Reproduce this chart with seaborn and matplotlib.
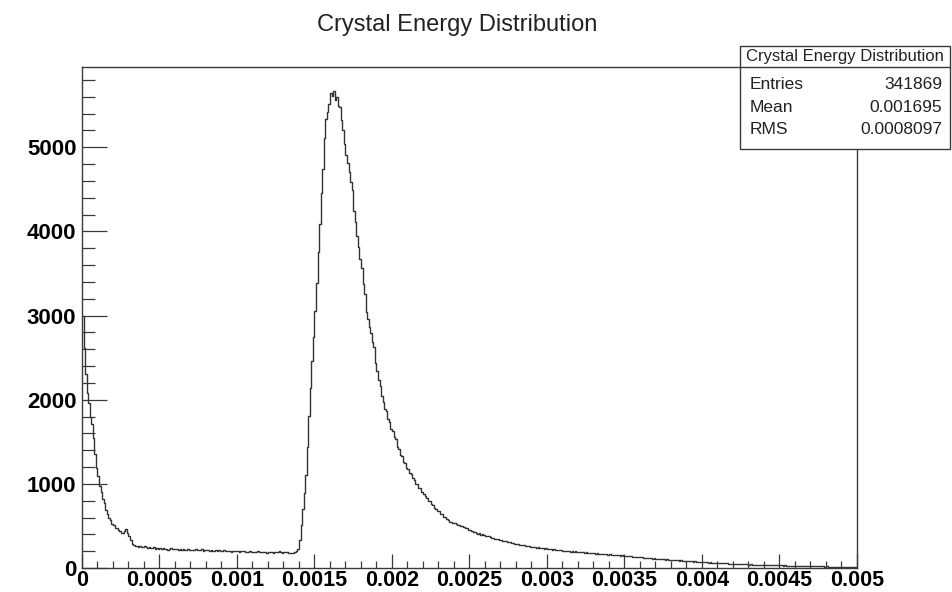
import numpy as np
import pandas as pd
import matplotlib
matplotlib.use('Agg')
import matplotlib.pyplot as plt
from matplotlib.ticker import MultipleLocator, FuncFormatter
from matplotlib.patches import Rectangle
from matplotlib.lines import Line2D
import seaborn as sns

# histogram range: 500 bins between 0 and 0.005
x_min, x_max, n_bins = 0.0, 0.005, 500

# bin contents, bins 0-139 (low edge + flat part)
counts_low = [
    3000, 2620, 2310, 2080, 1960, 1790, 1710, 1540, 1360, 1190, 1090, 970, 905, 820, 770, 695, 645, 598, 566, 527,
    508, 476, 472, 451, 444, 418, 413, 436, 468, 415, 378, 334, 288, 277, 262, 259, 254, 262, 248, 251,
    258, 246, 239, 252, 241, 236, 244, 230, 238, 226, 233, 229, 237, 224, 231, 219, 228, 233, 221, 225,
    222, 230, 218, 226, 215, 223, 219, 212, 227, 216, 220, 211, 218, 224, 209, 215, 213, 221, 206, 214,
    210, 217, 204, 212, 208, 199, 215, 203, 209, 201, 206, 212, 198, 204, 200, 207, 196, 203, 199, 205,
    198, 192, 204, 197, 201, 189, 196, 193, 199, 188, 195, 191, 186, 197, 190, 185, 193, 188, 194, 183,
    190, 187, 195, 184, 189, 192, 186, 198, 191, 184, 188, 194, 186, 180, 178, 176, 183, 189, 204, 232,
]
# bins 140-239 (the peak)
counts_peak = [
    330, 515, 705, 895, 1110, 1440, 1810, 2140, 2460, 2740, 3060, 3390, 3760, 4090, 4460, 4740, 5110, 5340, 5420, 5510,
    5640, 5610, 5670, 5560, 5600, 5490, 5480, 5320, 5210, 5040, 4910, 4810, 4710, 4590, 4490, 4240, 4110, 3940, 3810, 3670,
    3560, 3370, 3260, 3040, 2960, 2870, 2790, 2690, 2630, 2440, 2340, 2240, 2160, 2040, 1970, 1890, 1860, 1770, 1730, 1650,
    1630, 1560, 1530, 1440, 1410, 1340, 1330, 1260, 1250, 1190, 1180, 1130, 1120, 1070, 1050, 1000, 995, 950, 945, 900,
    885, 850, 835, 800, 795, 755, 745, 710, 705, 680, 675, 645, 640, 610, 605, 580, 575, 550, 548, 538,
]
# bins 240-499 (the tail)
counts_tail = [
    530, 522, 510, 506, 495, 498, 484, 470, 474, 455, 452, 440, 428, 431, 418, 410, 414, 398, 402, 390,
    384, 375, 379, 366, 358, 362, 349, 344, 348, 336, 331, 327, 318, 322, 309, 305, 311, 298, 294, 290,
    284, 288, 276, 272, 269, 275, 262, 258, 264, 253, 250, 255, 246, 242, 248, 238, 236, 241, 231, 233,
    228, 224, 230, 219, 222, 216, 220, 212, 209, 215, 205, 208, 203, 199, 206, 196, 200, 194, 197, 190,
    192, 188, 185, 190, 182, 186, 179, 183, 176, 180, 174, 171, 177, 169, 172, 166, 168, 163, 165, 160,
    162, 157, 159, 153, 156, 150, 152, 147, 149, 143, 146, 140, 142, 137, 139, 134, 131, 135, 128, 130,
    126, 128, 122, 124, 119, 121, 116, 118, 113, 115, 110, 112, 107, 109, 104, 106, 101, 103, 99, 97,
    98, 94, 96, 91, 93, 88, 90, 86, 84, 87, 81, 83, 79, 80, 76, 78, 74, 75, 72, 73,
    70, 71, 68, 69, 65, 67, 63, 64, 61, 62, 59, 60, 57, 58, 55, 56, 54, 52, 53, 50,
    51, 49, 48, 49, 46, 47, 44, 45, 43, 44, 41, 42, 40, 41, 38, 39, 37, 38, 36, 37,
    35, 36, 34, 35, 33, 34, 32, 33, 31, 32, 30, 31, 29, 30, 28, 29, 28, 27, 28, 26,
    27, 25, 26, 24, 25, 24, 23, 24, 22, 23, 22, 21, 22, 20, 21, 20, 19, 20, 19, 18,
    19, 18, 17, 18, 17, 16, 17, 16, 15, 16, 15, 14, 15, 14, 14, 13, 14, 13, 12, 13,
]

title = "Crystal Energy Distribution"
stat_labels = ["Entries", "Mean", "RMS"]
stat_values = ["341869", "0.001695", "0.0008097"]

counts = np.array(counts_low + counts_peak + counts_tail, dtype=float)
bin_w = (x_max - x_min) / n_bins
df = pd.DataFrame({"energy": x_min + bin_w * (np.arange(n_bins) + 0.5), "count": counts})

sns.set_style("ticks")
plt.rcParams['font.family'] = ['Liberation Sans', 'DejaVu Sans']
plt.rcParams['font.weight'] = 'bold'

fig = plt.figure(figsize=(9.52, 5.92), dpi=100)
ax = fig.add_axes([0.0861, 0.0405, 0.8141, 0.8463])
sns.histplot(data=df, x="energy", weights="count", bins=n_bins, binrange=(x_min, x_max),
             element="step", fill=False, color="#333333", linewidth=1.0, ax=ax)

ax.set_xlim(x_min, x_max)
ax.set_ylim(0, counts.max() * 1.05)
ax.set_xlabel("")
ax.set_ylabel("")

frame_col = "#3a3a3a"
for s in ax.spines.values():
    s.set_visible(True)
    s.set_color(frame_col)
    s.set_linewidth(1.0)

ax.xaxis.set_major_locator(MultipleLocator(0.0005))
ax.xaxis.set_minor_locator(MultipleLocator(0.0001))
ax.yaxis.set_major_locator(MultipleLocator(1000))
ax.yaxis.set_minor_locator(MultipleLocator(200))
ax.xaxis.set_major_formatter(FuncFormatter(lambda v, p: f"{v:g}" if abs(v) > 1e-12 else "0"))
ax.yaxis.set_major_formatter(FuncFormatter(lambda v, p: f"{v:.0f}"))

ax.tick_params(axis='both', which='both', direction='in', colors=frame_col,
               labelcolor='black', top=False, right=False, width=0.9)
ax.tick_params(axis='y', which='major', length=18, pad=4, labelsize=16)
ax.tick_params(axis='y', which='minor', length=9)
ax.tick_params(axis='x', which='major', length=10, pad=1.5, labelsize=15.5)
ax.tick_params(axis='x', which='minor', length=5)

fig.text(0.48, 0.958, title, ha='center', va='center', fontsize=17,
         fontweight='normal', color='#222222')

# stats box
bx0, bx1, by0, by1 = 0.7773, 0.9979, 0.7483, 0.9223
fig.add_artist(Rectangle((bx0, by0), bx1 - bx0, by1 - by0, transform=fig.transFigure,
                         facecolor='white', edgecolor=frame_col, linewidth=1.0, zorder=5))
fig.add_artist(Line2D([bx0, bx1], [0.8868, 0.8868], transform=fig.transFigure,
                      color=frame_col, linewidth=1.0, zorder=6))
fig.text((bx0 + bx1) / 2, 0.904, title, ha='center', va='center', fontsize=12,
         fontweight='normal', color='#222222', zorder=7)
row_y = [0.8575, 0.8190, 0.7815]
for lab, val, yy in zip(stat_labels, stat_values, row_y):
    fig.text(bx0 + 0.01, yy, lab, ha='left', va='center', fontsize=12.5,
             fontweight='normal', color='#222222', zorder=7)
    fig.text(bx1 - 0.008, yy, val, ha='right', va='center', fontsize=12.5,
             fontweight='normal', color='#222222', zorder=7)

fig.savefig("out.png", dpi=100, facecolor='white')
